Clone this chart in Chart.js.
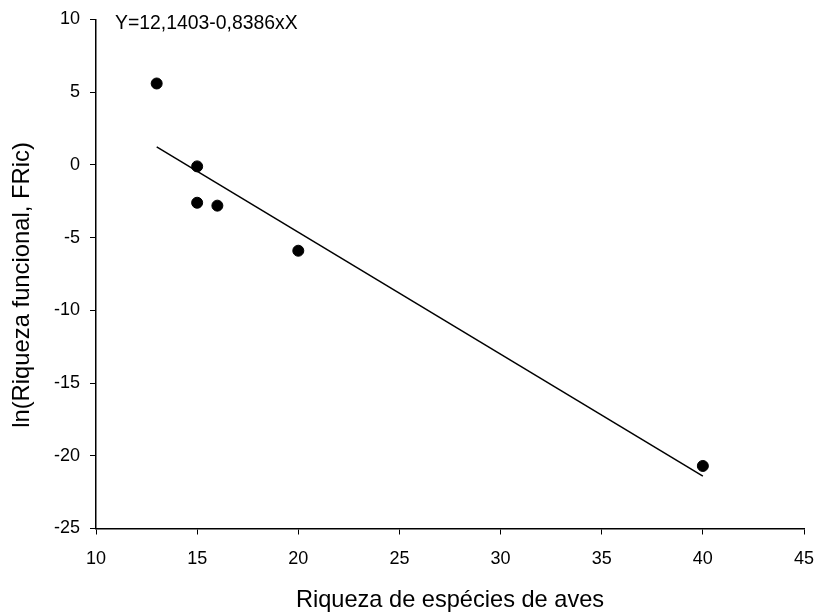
<!DOCTYPE html>
<html><head><meta charset="utf-8">
<script src="https://cdn.jsdelivr.net/npm/chart.js@4"></script>
<style>html,body{margin:0;padding:0;background:#fff}#wrap{width:819px;height:615px}</style>
</head><body><div id="wrap"><canvas id="c" width="819" height="615"></canvas></div>
<script>
const speciesRichness = [13, 15, 15, 16, 20, 40];
const lnFRic = [5.6, -0.1, -2.6, -2.8, -5.9, -20.7];
const fitX = [13, 40];
const fitY = [1.24, -21.40];
const equationLabel = 'Y=12,1403-0,8386xX';
const xTitle = 'Riqueza de espécies de aves';
const yTitle = 'ln(Riqueza funcional, FRic)';

const FONT = 'Arial, "Liberation Sans", sans-serif';

const annot = {
  id: 'annot',
  afterDraw(chart) {
    const ctx = chart.ctx;
    const a = chart.chartArea;
    ctx.save();
    ctx.fillStyle = '#000';
    ctx.font = '19.4px ' + FONT;
    ctx.textBaseline = 'middle';
    ctx.textAlign = 'left';
    ctx.fillText(equationLabel, a.left + 19, a.top + 4.5);
    // y-axis title
    ctx.translate(22, 285);
    ctx.rotate(-Math.PI / 2);
    ctx.font = '23.8px ' + FONT;
    ctx.textAlign = 'center';
    ctx.textBaseline = 'middle';
    ctx.fillText(yTitle, 0, 0);
    ctx.restore();
  }
};

new Chart(document.getElementById('c'), {
  type: 'scatter',
  data: {
    datasets: [
      {
        type: 'line',
        data: fitX.map((x, i) => ({x, y: fitY[i]})),
        borderColor: '#000', borderWidth: 1.5, pointRadius: 0, fill: false, tension: 0
      },
      {
        data: speciesRichness.map((x, i) => ({x, y: lnFRic[i]})),
        backgroundColor: '#000', borderColor: '#000', pointRadius: 5.5, pointHoverRadius: 5.5
      }
    ]
  },
  options: {
    responsive: false, animation: false, devicePixelRatio: 1,
    layout: { padding: { top: 19.5, right: 15, left: 0, bottom: 0 } },
    plugins: { legend: { display: false }, tooltip: { enabled: false } },
    scales: {
      x: {
        type: 'linear', min: 10, max: 45,
        ticks: { stepSize: 5, color: '#000', font: { size: 18, family: FONT }, padding: 14 },
        grid: { drawOnChartArea: false, drawTicks: true, tickLength: 6, color: '#000' },
        border: { display: true, color: '#000', width: 1.5 },
        title: { display: true, text: xTitle, color: '#000', font: { size: 23.6, family: FONT }, padding: { top: 14, bottom: 0 } },
        afterFit(s) { s.height = 86.5; s.paddingRight = 0; s.paddingLeft = 0; }
      },
      y: {
        type: 'linear', min: -25, max: 10,
        ticks: { stepSize: 5, color: '#000', font: { size: 18, family: FONT }, padding: 10 },
        grid: { drawOnChartArea: false, drawTicks: true, tickLength: 6, color: '#000' },
        border: { display: true, color: '#000', width: 1.5 },
        title: { display: false, text: yTitle },
        afterFit(s) { s.width = 96; s.paddingTop = 0; s.paddingBottom = 0; }
      }
    }
  },
  plugins: [annot]
});
</script></body></html>
